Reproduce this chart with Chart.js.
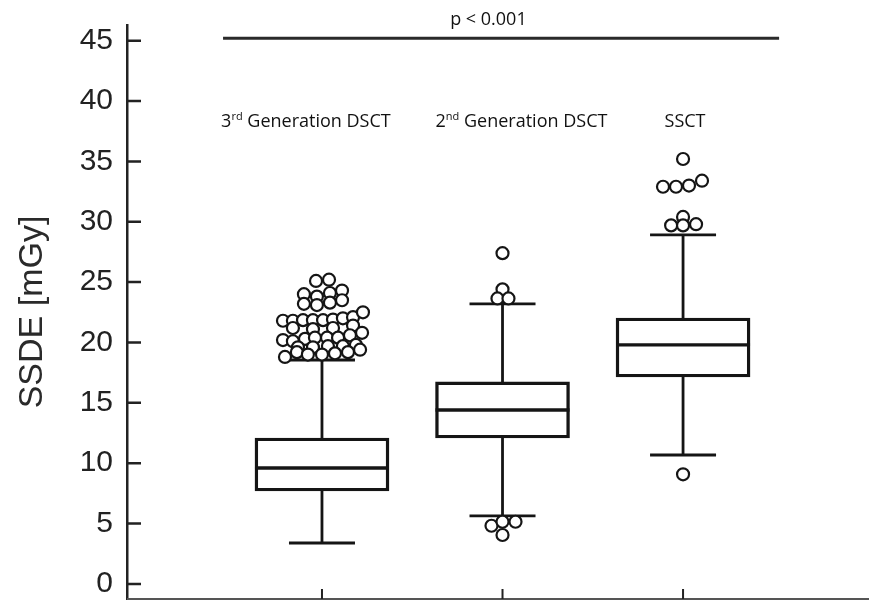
<!DOCTYPE html>
<html>
<head>
<meta charset="utf-8">
<script src="https://cdn.jsdelivr.net/npm/chart.js@4.4.1/dist/chart.umd.min.js"></script>
<style>
  html, body { margin: 0; padding: 0; background: #fff; }
</style>
</head>
<body>
<canvas id="c" width="869" height="600"></canvas>
<script>
// box plot values (SSDE in mGy)
const groups = ['3rd Generation DSCT', '2nd Generation DSCT', 'SSCT'];
const groupX = [1, 2, 3];
const q1 = [7.70, 12.09, 17.14];
const q3 = [12.09, 16.73, 22.03];
const medians = [9.60, 14.41, 19.80];
const whiskerLow = [3.39, 5.63, 10.68];
const whiskerHigh = [18.55, 23.19, 28.91];
const yTicks = [0, 5, 10, 15, 20, 25, 30, 35, 40, 45];

// outliers (x is spread around the group position like the original swarm)
const outlierX = [
  // 3rd generation DSCT
  0.967, 1.039,
  0.900, 0.972, 1.044, 1.111,
  0.900, 0.972, 1.044, 1.111,
  0.784, 0.839, 0.895, 0.950, 1.006, 1.061, 1.116, 1.172, 1.227,
  0.839, 0.950, 1.061, 1.172,
  0.784, 0.839, 0.906, 0.961, 1.028, 1.089, 1.155, 1.222,
  0.867, 0.950, 1.033, 1.116, 1.188,
  0.795, 0.861, 0.922, 1.000, 1.072, 1.144, 1.211,
  // 2nd generation DSCT
  2.000, 2.000, 1.972, 2.033, 1.939, 2.000, 2.072, 2.000,
  // SSCT
  3.000, 2.889, 2.961, 3.033, 3.105, 2.934, 3.000, 3.000, 3.072, 3.000
];
const outlierY = [
  25.1, 25.2,
  24.0, 23.8, 24.1, 24.3,
  23.2, 23.1, 23.3, 23.5,
  21.8, 21.8, 21.85, 21.85, 21.85, 21.9, 22.0, 22.1, 22.5,
  21.2, 21.1, 21.2, 21.4,
  20.2, 20.1, 20.3, 20.4, 20.4, 20.4, 20.6, 20.8,
  19.6, 19.6, 19.7, 19.7, 19.8,
  18.8, 19.2, 19.0, 19.0, 19.1, 19.2, 19.4,
  27.4, 24.4, 23.65, 23.65, 4.82, 5.15, 5.15, 4.05,
  35.2, 32.9, 32.9, 33.0, 33.4, 29.7, 30.4, 29.7, 29.8, 9.08
];

const INK = '#151515';

// whiskers, caps, medians, axes and the annotation texts
const boxExtras = {
  id: 'boxExtras',
  afterDatasetDraw(chart, args) {
    if (args.meta.type !== 'bar') return;
    const { ctx, scales: { x, y } } = chart;
    const bars = args.meta.data;
    ctx.save();
    ctx.strokeStyle = INK;
    ctx.lineCap = 'butt';
    groupX.forEach((gx, i) => {
      const cx = x.getPixelForValue(gx);
      const el = bars[i];
      const left = el.x - el.width / 2;
      const right = el.x + el.width / 2;
      const yHi = y.getPixelForValue(whiskerHigh[i]);
      const yLo = y.getPixelForValue(whiskerLow[i]);
      const yQ3 = y.getPixelForValue(q3[i]);
      const yQ1 = y.getPixelForValue(q1[i]);
      const yMed = y.getPixelForValue(medians[i]);
      ctx.lineWidth = 2.8;
      ctx.beginPath();
      ctx.moveTo(cx, yQ3); ctx.lineTo(cx, yHi);
      ctx.moveTo(cx, yQ1); ctx.lineTo(cx, yLo);
      ctx.moveTo(cx - 33, yHi); ctx.lineTo(cx + 33, yHi);
      ctx.moveTo(cx - 33, yLo); ctx.lineTo(cx + 33, yLo);
      ctx.stroke();
      ctx.lineWidth = 3.4;
      ctx.beginPath();
      ctx.moveTo(left, yMed); ctx.lineTo(right, yMed);
      ctx.stroke();
    });
    ctx.restore();
  },
  afterDraw(chart) {
    const { ctx, chartArea: area, scales: { x, y } } = chart;
    ctx.save();
    ctx.strokeStyle = '#222';
    ctx.lineWidth = 2.5;
    // inner ticks on the y axis
    ctx.beginPath();
    yTicks.forEach(v => {
      const py = y.getPixelForValue(v);
      ctx.moveTo(area.left, py); ctx.lineTo(area.left + 14, py);
    });
    ctx.stroke();
    // x axis line and ticks
    ctx.strokeStyle = '#555';
    ctx.lineWidth = 2;
    ctx.beginPath();
    ctx.moveTo(area.left, area.bottom); ctx.lineTo(area.right, area.bottom);
    ctx.stroke();
    ctx.strokeStyle = '#222';
    ctx.beginPath();
    groupX.forEach(gx => {
      const px = x.getPixelForValue(gx);
      ctx.moveTo(px, area.bottom); ctx.lineTo(px, area.bottom - 10);
    });
    ctx.stroke();

    // significance bar
    const lineY = y.getPixelForValue(45.2);
    ctx.strokeStyle = '#2a2a2a';
    ctx.lineWidth = 3;
    ctx.beginPath();
    ctx.moveTo(x.getPixelForValue(0.452), lineY);
    ctx.lineTo(x.getPixelForValue(3.532), lineY);
    ctx.stroke();
    ctx.fillStyle = '#111';
    ctx.textAlign = 'center';
    ctx.textBaseline = 'middle';
    ctx.font = '18px "Open Sans"';
    ctx.fillText('p < 0.001', x.getPixelForValue(1.922), y.getPixelForValue(46.7));

    // group labels with superscripts
    const labelX = [0.911, 2.105, 3.011];
    const labelY = y.getPixelForValue(38.3);
    groups.forEach((g, i) => {
      const m = g.match(/^(\d)(st|nd|rd|th)(.*)$/);
      const big = '18px "Open Sans"';
      const small = '11px "Open Sans"';
      let parts = m ? [[m[1], big, 0], [m[2], small, -5], [m[3], big, 0]] : [[g, big, 0]];
      let w = 0;
      parts.forEach(p => { ctx.font = p[1]; w += ctx.measureText(p[0]).width; });
      let px = x.getPixelForValue(labelX[i]) - w / 2;
      ctx.textAlign = 'left';
      parts.forEach(p => {
        ctx.font = p[1];
        ctx.fillText(p[0], px, labelY + p[2]);
        px += ctx.measureText(p[0]).width;
      });
    });
    ctx.restore();
  }
};

new Chart(document.getElementById('c'), {
  type: 'bar',
  data: {
    datasets: [
      {
        type: 'bar',
        order: 2,
        data: groupX.map((gx, i) => ({ x: gx, y: [q1[i], q3[i]] })),
        backgroundColor: '#fff',
        borderColor: INK,
        borderWidth: 3.4,
        borderSkipped: false,
        barThickness: 134
      },
      {
        type: 'scatter',
        order: 1,
        data: outlierX.map((v, i) => ({ x: v, y: outlierY[i] })),
        pointRadius: 6,
        pointBorderWidth: 2.2,
        pointBackgroundColor: '#fff',
        pointBorderColor: INK
      }
    ]
  },
  options: {
    responsive: false,
    animation: false,
    layout: { autoPadding: false, padding: { top: 25, bottom: 1, left: 0, right: 0 } },
    plugins: { legend: { display: false }, tooltip: { enabled: false } },
    scales: {
      x: { type: 'linear', offset: false, min: -0.080, max: 4.03, display: false },
      y: {
        min: -1.25,
        max: 46.3,
        afterBuildTicks: s => { s.ticks = yTicks.map(v => ({ value: v })); },
        afterFit: s => {
          s.width = 127;
          s.paddingTop = 0;
          s.paddingBottom = 0;
        },
        grid: { display: false, drawTicks: false },
        border: { display: true, color: '#222', width: 2.5 },
        ticks: {
          padding: 14,
          color: '#222',
          font: { family: '"Liberation Sans", Arial', size: 30 }
        },
        title: {
          display: true,
          text: 'SSDE [mGy]',
          color: '#2a2a2a',
          font: { family: '"Liberation Sans", Arial', size: 34 },
          padding: { top: 12, bottom: 0 }
        }
      }
    }
  },
  plugins: [boxExtras]
});
</script>
</body>
</html>
